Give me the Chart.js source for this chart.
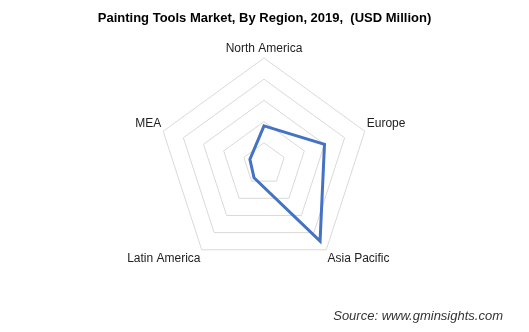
<!DOCTYPE html>
<html>
<head>
<meta charset="utf-8">
<script src="https://cdn.jsdelivr.net/npm/chart.js@4.4.0/dist/chart.umd.min.js"></script>
<style>
  html, body { margin: 0; padding: 0; background: #fff; }
  #wrap { width: 529px; height: 332px; }
</style>
</head>
<body>
<div id="wrap"><canvas id="myChart"></canvas></div>
<script>
// regions and values (in grid-ring units, 5 rings)
const regions = ['North America', 'Europe', 'Asia Pacific', 'Latin America', 'MEA'];
const values = [1.8, 3.0, 4.5, 0.8, 0.7];
const scaleMax = 5;

const config = {
  type: 'radar',
  data: {
    labels: regions,
    datasets: [{
      label: 'Market size',
      data: values,
      borderColor: '#4472C4',
      borderWidth: 3,
      backgroundColor: 'rgba(0,0,0,0)',
      fill: false,
      pointRadius: 0,
      pointHoverRadius: 0,
      tension: 0
    }]
  },
  options: {
    responsive: true,
    maintainAspectRatio: false,
    animation: false,
    layout: { padding: { top: 0, bottom: 0, left: 26, right: 26 } },
    plugins: {
      legend: { display: false },
      tooltip: { enabled: false },
      title: {
        display: true,
        text: 'Painting Tools Market, By Region, 2019,  (USD Million)',
        color: '#000',
        font: { family: 'Liberation Sans', size: 13, weight: 'bold' },
        padding: { top: 11, bottom: 7 }
      },
      subtitle: {
        display: true,
        position: 'bottom',
        align: 'end',
        text: 'Source: www.gminsights.com',
        color: '#333',
        font: { family: 'Liberation Sans', size: 13, style: 'italic' },
        padding: { top: 29, bottom: 8 }
      }
    },
    scales: {
      r: {
        min: 0,
        max: scaleMax,
        ticks: { stepSize: 1, display: false },
        angleLines: { display: false },
        grid: { color: '#d9d9d9', lineWidth: 1 },
        pointLabels: {
          color: '#222',
          font: { family: 'Liberation Sans', size: 12 },
          padding: 2
        }
      }
    }
  }
};

const ctx = document.getElementById('myChart').getContext('2d');
const chart = new Chart(ctx, config);
</script>
</body>
</html>
